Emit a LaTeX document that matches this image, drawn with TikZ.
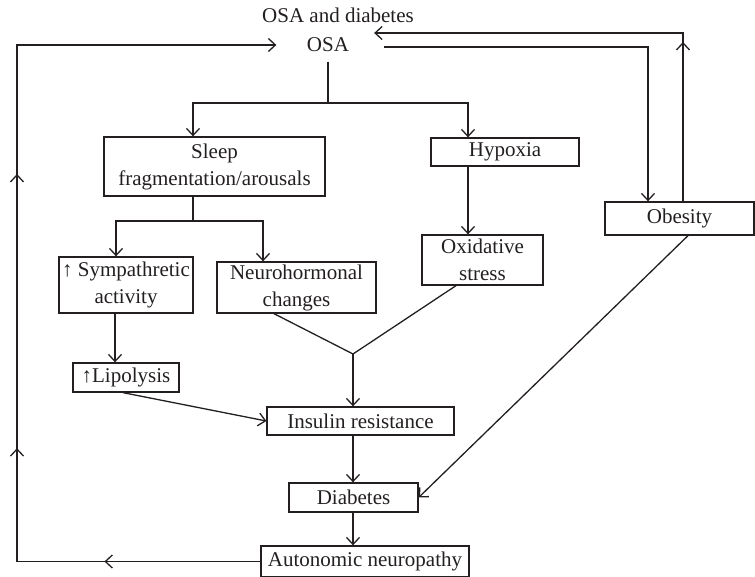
\documentclass[tikz,border=0pt]{standalone}
\usepackage{fontspec}
\setmainfont{Liberation Serif}
\usetikzlibrary{arrows.meta,calc,decorations.markings}
\definecolor{ink}{HTML}{231F20}

\begin{document}
\begin{tikzpicture}[x=1pt,y=-1pt,line width=1.3pt,color=ink,
  >={Straight Barb[length=7pt,width=13pt]},
  font=\fontsize{21}{27}\selectfont,
  box/.style={draw,align=center,inner sep=0pt},
  midarrows/.style={postaction={decorate},decoration={markings,#1}}]
\useasboundingbox (0,0) rectangle (755,577);
\node (title) at (338,15) {OSA and diabetes};
\node [inner xsep=30pt,inner ysep=9pt] (osa) at (328,45) {OSA};
\node [box,minimum width=221pt,minimum height=59pt] (sleep) at (214.5,166.5) {Sleep\\fragmentation/arousals};
\node [box,minimum width=148pt,minimum height=28pt] (hypox) at (505,152) {Hypoxia};
\node [box,minimum width=134pt,minimum height=56pt] (symp) at (126,285) {↑ Sympathretic\\activity};
\node [box,minimum width=159pt,minimum height=51pt] (neuro) at (296.5,287.5) {Neurohormonal\\changes};
\node [box,minimum width=121pt,minimum height=50pt] (oxid) at (482.5,260) {Oxidative\\stress};
\node [box,minimum width=149pt,minimum height=33pt] (obes) at (679.5,218.5) {Obesity};
\node [box,minimum width=106pt,minimum height=29pt] (lipo) at (126,377.5) {↑Lipolysis};
\node [box,minimum width=187pt,minimum height=28pt] (insul) at (360.5,421) {Insulin resistance};
\node [box,minimum width=129pt,minimum height=29pt] (diab) at (353.5,497.5) {Diabetes};
\node [box,minimum width=208pt,minimum height=31pt] (auton) at (365,561.5) {Autonomic neuropathy};
\coordinate (split1) at (328,103);
\coordinate (split2) at (193,221);
\coordinate (join) at (353,354);
\coordinate (loopcorner) at (17,45);
\draw (osa.south) -- (split1);
\draw [->] (split1) -| ($(sleep.north)+(-21.5,0)$);
\draw [->] (split1) -| ($(hypox.north)+(-37,0)$);
\draw ($(sleep.south)+(-21.5,0)$) -- (split2);
\draw [->] (split2) -| ($(symp.north)+(-10,0)$);
\draw [->] (split2) -| ($(neuro.north)+(-33.5,0)$);
\draw [->] ($(hypox.south)+(-37,0)$) -- ($(oxid.north)+(-14.5,0)$);
\draw [->] ($(symp.south)+(-11,0)$) -- ($(lipo.north)+(-11,0)$);
\draw [->] ($(lipo.south)+(-3,0)$) -- (insul.west);
\draw ($(neuro.south)+(-22.5,0)$) -- (join);
\draw ($(oxid.south)+(-26.5,0)$) -- (join);
\draw [->] (join) -- ($(insul.north)+(-7.5,0)$);
\draw [->] ($(insul.south)+(-7.5,0)$) -- ($(diab.north)+(-0.5,0)$);
\draw [->] ($(diab.south)+(-0.5,0)$) -- ($(auton.north)+(-12,0)$);
\draw [->] ($(obes.south)+(8.5,0)$) -- (diab.east);
\draw [->] ($(osa.east)+(4.5,2)$) -| ($(obes.north)+(-31.5,0)$);
\draw [->,midarrows={mark=at position 0.334 with {\arrow{>}}}] ($(obes.north)+(3.5,0)$) |- ($(osa.east)+(-5.5,-12)$);
\draw [->,midarrows={mark=at position 0.153 with {\arrow{>}},mark=at position 0.35 with {\arrow{>}},mark=at position 0.619 with {\arrow{>}}}] (auton.west) -| (loopcorner) -- (osa.west);
\end{tikzpicture}
\end{document}
